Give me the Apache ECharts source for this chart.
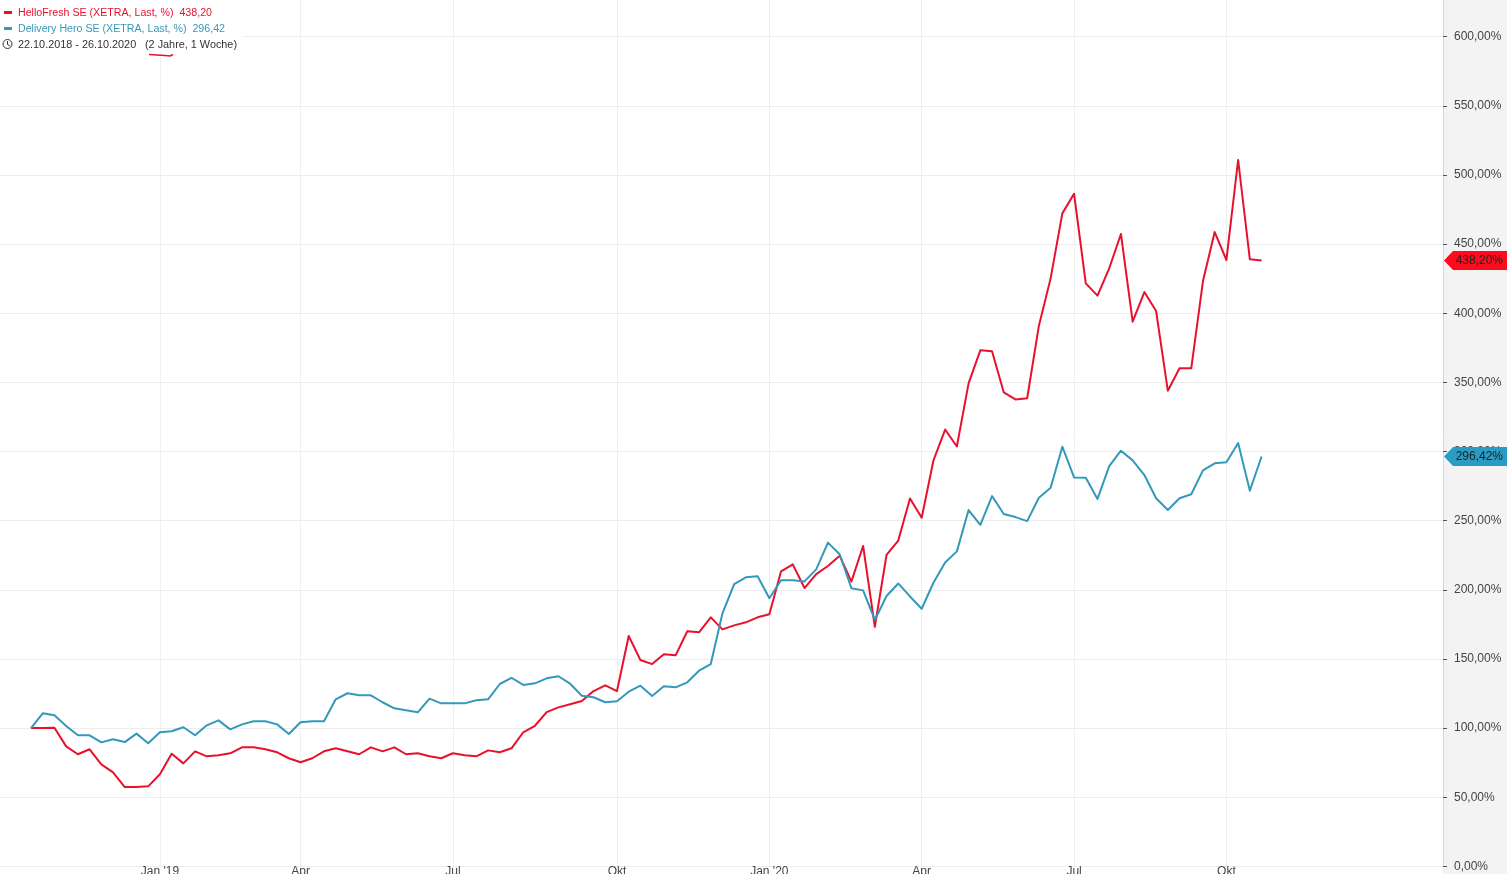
<!DOCTYPE html>
<html>
<head>
<meta charset="utf-8">
<title>HelloFresh / Delivery Hero</title>
<script src="https://cdn.jsdelivr.net/npm/echarts@6/dist/echarts.min.js"></script>
<style>
html, body { margin: 0; padding: 0; background: #fff; overflow: hidden; }
#chart { width: 1507px; height: 874px; }
</style>
</head>
<body>
<div id="chart"></div>
<script>
// weekly closes, in %, first week = 22.10.2018 = 100
var helloFresh = [
    100, 100, 100.3, 86.8, 81.1, 84.7, 73.8, 68.0, 57.4, 57.4,
    57.9, 66.6, 81.5, 74.5, 83.2, 79.6, 80.3, 81.8, 86.1, 86.1,
    84.7, 82.5, 78.2, 75.3, 78.2, 83.2, 85.4, 83.2, 81.1, 86.1,
    83.2, 86.1, 81.1, 81.8, 79.6, 78.2, 81.8, 80.3, 79.6, 83.9,
    82.5, 85.4, 97.0, 101.7, 111.6, 115.0, 117.2, 119.6, 126.8, 130.9,
    126.8, 166.6, 149.2, 146.3, 153.4, 152.6, 170.0, 169.3, 180.1, 171.4,
    174.3, 176.5, 180.1, 182.3, 213.4, 218.4, 201.3, 211.4, 217.2, 224.7,
    205.9, 231.7, 173.3, 225.2, 235.6, 266.0, 252.1, 293.5, 315.9, 303.6,
    349.3, 373.2, 372.5, 342.8, 337.7, 338.5, 391.0, 425.2, 472.2, 486.4,
    421.6, 412.7, 432.5, 457.3, 393.9, 415.3, 401.6, 344.0, 360.2, 360.2,
    423.3, 458.7, 438.5, 510.8, 439.0, 438.2
];
var deliveryHero = [
    100, 110.7, 109.3, 101.5, 94.8, 94.8, 89.7, 91.9, 89.9, 96.0,
    89.0, 97.0, 97.7, 100.6, 94.8, 102.0, 105.6, 99.1, 102.7, 104.9,
    104.9, 102.7, 95.7, 104.2, 104.9, 104.9, 120.8, 125.2, 123.7, 123.7,
    118.7, 114.3, 112.9, 111.4, 121.3, 117.9, 117.9, 117.9, 120.1, 120.8,
    131.9, 136.4, 131.2, 132.4, 136.0, 137.5, 132.1, 123.4, 122.3, 118.7,
    119.4, 126.3, 130.7, 123.2, 130.2, 129.5, 133.1, 141.5, 146.3, 183.0,
    204.2, 209.0, 209.8, 193.9, 206.9, 206.9, 206.1, 214.8, 234.1, 225.7,
    201.1, 199.6, 178.2, 195.5, 204.6, 195.2, 186.3, 205.1, 219.7, 227.8,
    257.7, 246.9, 267.8, 254.8, 252.6, 249.7, 266.6, 273.8, 303.5, 281.3,
    281.1, 265.7, 289.5, 300.6, 293.6, 283.0, 266.2, 257.7, 266.2, 269.1,
    286.4, 291.5, 292.2, 306.1, 271.7, 296.42
];
var tickWeeks = [11, 23, 36, 50, 63, 76, 89, 102];
var tickLabels = ["Jan '19", 'Apr', 'Jul', 'Okt', "Jan '20", 'Apr', 'Jul', 'Okt'];
var lastValues = [438.20, 296.42];
var lastLabels = ['438,20%', '296,42%'];

var RED = '#e8112d';
var BLUE = '#3498bb';
var FONT = '"Liberation Sans", Arial, sans-serif';
var LEGEND_FONT = '10.65px ' + FONT;
var DATE_FONT = '10.85px ' + FONT;

function toPoints(values) {
    return values.map(function (v, i) { return [i, v]; });
}

var myChart = echarts.init(document.getElementById('chart'));

var option = {
    animation: false,
    backgroundColor: '#fff',
    textStyle: { fontFamily: FONT },
    grid: { left: 0, right: 64, top: 0, bottom: 7.6, outerBoundsMode: 'none' },
    xAxis: {
        type: 'value',
        min: -2.645,
        max: 120.48,
        axisLine: { show: false },
        axisTick: { show: false, customValues: tickWeeks },
        splitLine: { show: true, lineStyle: { color: '#efefef', width: 1 } },
        axisLabel: {
            customValues: tickWeeks,
            color: '#444',
            fontSize: 12,
            margin: -1,
            fontFamily: FONT,
            formatter: function (v) { return tickLabels[tickWeeks.indexOf(v)]; }
        }
    },
    yAxis: {
        type: 'value',
        position: 'right',
        min: 0,
        max: 626.5,
        interval: 50,
        axisLine: { show: true, onZero: false, lineStyle: { color: '#d8d8d8', width: 1 } },
        axisTick: { show: true, length: 4, lineStyle: { color: '#555' } },
        splitLine: { show: true, showMaxLine: false, lineStyle: { color: '#ececec', width: 1 } },
        axisLabel: {
            color: '#444',
            fontSize: 12,
            margin: 11,
            padding: [0, 0, 2, 0],
            fontFamily: FONT,
            showMaxLabel: false,
            formatter: function (v) { return v.toFixed(2).replace('.', ',') + '%'; }
        }
    },
    series: [
        {
            name: 'HelloFresh SE',
            type: 'line',
            data: toPoints(helloFresh),
            showSymbol: false,
            lineStyle: { color: RED, width: 2, join: 'round' },
            z: 3
        },
        {
            name: 'Delivery Hero SE',
            type: 'line',
            data: toPoints(deliveryHero),
            showSymbol: false,
            lineStyle: { color: BLUE, width: 2, join: 'round' },
            z: 4
        },
        {
            // price tags on the axis for the last value of each line
            type: 'custom',
            clip: false,
            z: 10,
            silent: true,
            data: lastValues.map(function (v, i) { return [0, v, i]; }),
            renderItem: function (params, api) {
                var y = api.coord([0, api.value(1)])[1];
                var i = api.value(2);
                var x = params.coordSys.x + params.coordSys.width;
                return {
                    type: 'group',
                    children: [
                        {
                            type: 'polygon',
                            shape: { points: [[x + 1, y], [x + 10, y - 9.5], [1507, y - 9.5], [1507, y + 9.5], [x + 10, y + 9.5]] },
                            style: { fill: i === 0 ? '#ff0a1e' : '#2a9cc4' }
                        },
                        {
                            type: 'text',
                            x: 1503,
                            y: y,
                            style: {
                                text: lastLabels[i],
                                align: 'right',
                                verticalAlign: 'middle',
                                fill: '#222',
                                font: '12px ' + FONT
                            }
                        }
                    ]
                };
            }
        }
    ],
    graphic: [
        // right hand axis panel
        { type: 'rect', z: -10, silent: true, shape: { x: 1443, y: 0, width: 64, height: 874 }, style: { fill: '#f3f3f3' } },
        // white box behind the legend text
        { type: 'rect', z: 20, silent: true, shape: { x: 0, y: 0, width: 243, height: 52 }, style: { fill: '#fff' } },
        { type: 'rect', z: 21, silent: true, shape: { x: 4, y: 11, width: 8, height: 3 }, style: { fill: RED } },
        { type: 'text', z: 21, silent: true, x: 18, y: 13, style: { text: 'HelloFresh SE (XETRA, Last, %)  438,20', fill: RED, font: LEGEND_FONT, verticalAlign: 'middle' } },
        { type: 'rect', z: 21, silent: true, shape: { x: 4, y: 27, width: 8, height: 3 }, style: { fill: BLUE } },
        { type: 'text', z: 21, silent: true, x: 18, y: 29, style: { text: 'Delivery Hero SE (XETRA, Last, %)  296,42', fill: BLUE, font: LEGEND_FONT, verticalAlign: 'middle' } },
        { type: 'circle', z: 21, silent: true, shape: { cx: 7.5, cy: 44, r: 4.5 }, style: { fill: 'none', stroke: '#333', lineWidth: 1 } },
        { type: 'polyline', z: 21, silent: true, shape: { points: [[7.5, 41], [7.5, 44.5], [10, 46]] }, style: { fill: 'none', stroke: '#333', lineWidth: 1 } },
        { type: 'text', z: 21, silent: true, x: 18, y: 45, style: { text: '22.10.2018 - 26.10.2020', fill: '#333', font: DATE_FONT, verticalAlign: 'middle' } },
        { type: 'text', z: 21, silent: true, x: 145, y: 45, style: { text: '(2 Jahre, 1 Woche)', fill: '#333', font: DATE_FONT, verticalAlign: 'middle' } },
        // red pen stroke under "2 Jahre"
        { type: 'polyline', z: 21, silent: true, shape: { points: [[149, 54.5], [157, 55], [165, 55.5], [170, 56], [173, 54.5]] }, style: { fill: 'none', stroke: RED, lineWidth: 1.5 } }
    ]
};
myChart.setOption(option);
</script>
</body>
</html>
